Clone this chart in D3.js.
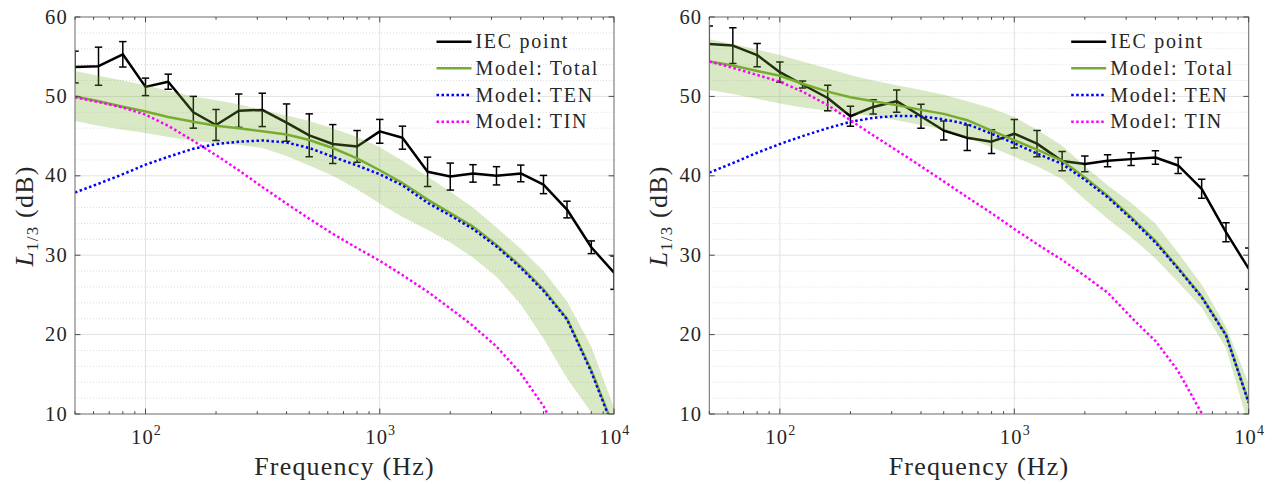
<!DOCTYPE html>
<html><head><meta charset="utf-8">
<script src="https://cdn.jsdelivr.net/npm/d3@7"></script>
<style>
body{margin:0;background:#fff;}
svg{display:block;}
text{font-family:"Liberation Serif","Times New Roman",serif;fill:#262626;}
</style>
</head><body>
<svg id="chart" width="1279" height="484"></svg>
<script>
// ---------- data ----------
const freqs = [50,63,80,100,125,160,200,250,315,400,500,630,800,1000,1250,1600,2000,2500,3150,4000,5000,6300,8000,10000];
const yTicks = [10,20,30,40,50,60];
const xMajorTicks = [100,1000,10000];
const xTickExponents = ["2","3","4"];
const legendLabels = ["IEC point","Model: Total","Model: TEN","Model: TIN"];
const xLabel = "Frequency (Hz)";

// left panel
const iecLeft    = [53.7,53.8,55.3,51.2,51.85,48.0,46.4,48.2,48.3,46.7,45.1,44.0,43.7,45.6,44.8,40.5,39.9,40.3,40.0,40.3,38.9,35.75,31.0,27.8];
const iecErrLeft = [2.0,2.4,1.6,1.1,0.95,2.0,1.95,2.1,2.1,2.35,2.7,2.45,2.0,1.5,1.45,1.85,1.7,1.1,1.15,1.05,1.15,1.05,0.8,2.1];
const totalLeft  = [50.0,49.4,48.7,48.1,47.4,46.8,46.3,46.0,45.6,45.2,44.5,43.5,42.2,40.7,39.1,37.0,35.3,33.6,31.3,28.6,25.7,22.0,15.5,8.2];
const tenLeft    = [37.9,39.0,40.2,41.4,42.4,43.4,44.0,44.3,44.45,44.2,43.5,42.4,41.3,40.2,38.8,36.6,35.0,33.3,31.1,28.4,25.5,21.9,15.3,8.0];
const tinLeft    = [49.9,49.3,48.6,47.7,46.3,44.4,42.6,40.7,38.6,36.5,34.6,32.7,30.9,29.3,27.5,25.4,23.3,21.1,18.5,15.1,11.0,5.0,-2.0,-10.0];
const bandUpLeft = [53.2,52.6,52.0,51.4,50.7,50.0,49.5,49.0,48.3,47.6,46.9,46.0,44.9,43.6,41.9,39.9,38.0,36.0,33.5,30.8,28.0,24.2,18.5,10.8];
const bandLoLeft = [46.9,46.3,45.8,45.4,44.9,44.4,44.1,43.9,43.5,42.5,41.3,40.0,38.3,36.5,34.8,33.2,31.6,29.7,27.3,23.8,19.5,14.5,10.2,2.0];

// right panel
const iecRight    = [56.6,56.4,55.2,53.05,51.5,49.8,47.5,48.67,49.4,47.5,45.7,44.8,44.3,45.3,44.05,41.85,41.5,41.9,42.1,42.3,41.3,38.36,32.9,28.3];
const iecErrRight = [2.27,2.25,1.45,1.28,0.45,1.6,1.26,0.9,1.4,1.5,1.2,1.6,1.5,1.8,1.65,1.2,1.0,0.75,0.8,0.85,1.0,1.2,1.2,2.6];
const totalRight  = [54.4,53.9,53.2,52.6,51.6,50.6,49.9,49.4,48.9,48.3,47.8,47.0,45.7,44.5,43.3,41.9,39.8,37.5,34.8,31.8,28.4,24.8,20.0,11.5];
const tenRight    = [40.4,41.6,42.9,44.0,45.0,46.0,46.8,47.3,47.55,47.5,47.1,46.5,45.3,44.1,42.8,41.5,39.5,37.3,34.6,31.6,28.3,24.7,19.9,11.4];
const tinRight    = [54.4,53.6,52.7,51.85,50.6,48.9,47.0,45.1,43.2,41.2,39.3,37.3,35.3,33.3,31.4,29.4,27.4,25.3,22.2,19.2,15.4,10.1,2.0,-7.0];
const bandUpRight = [57.2,56.6,55.9,55.2,54.4,53.5,52.7,52.0,51.4,50.8,50.2,49.4,48.5,47.4,45.8,43.8,41.2,38.8,36.6,34.0,30.3,26.3,21.0,13.8];
const bandLoRight = [50.8,50.3,49.7,49.1,48.6,48.2,47.9,47.5,47.0,46.4,45.8,44.8,43.6,42.4,41.2,39.6,37.0,34.6,32.3,29.6,26.6,23.4,18.3,8.5];

// ---------- styles ----------
const colIEC = "#000000", colTotal = "#77AC30", colTEN = "#0000FF", colTIN = "#FF00FF";

const svg = d3.select("#chart");
const Y0 = 17, Y1 = 414;

function buildRows(iec, err, total, ten, tin, up, lo){
  return freqs.map((f,i)=>({f, iec:iec[i], err:err[i], total:total[i], ten:ten[i], tin:tin[i], up:up[i], lo:lo[i]}));
}

function drawPanel(id, x0, x1, rows){
  const g = svg.append("g");
  const x = d3.scaleLog().domain([50,10000]).range([x0,x1]);
  const y = d3.scaleLinear().domain([10,60]).range([Y1,Y0]);

  // grid
  const minorY = d3.range(10,61,2).filter(v=>v%10!==0);
  g.selectAll(".mg").data(minorY).enter().append("line")
    .attr("x1",x0).attr("x2",x1).attr("y1",d=>y(d)).attr("y2",d=>y(d))
    .attr("stroke","#d4d4d4").attr("stroke-width",0.8).attr("stroke-dasharray","1,2");
  g.selectAll(".gy").data(yTicks.slice(1,-1)).enter().append("line")
    .attr("x1",x0).attr("x2",x1).attr("y1",d=>y(d)).attr("y2",d=>y(d))
    .attr("stroke","#e2e2e2").attr("stroke-width",1);
  g.selectAll(".gx").data(xMajorTicks.slice(0,-1)).enter().append("line")
    .attr("x1",d=>x(d)).attr("x2",d=>x(d)).attr("y1",Y0).attr("y2",Y1)
    .attr("stroke","#e2e2e2").attr("stroke-width",1);

  // clip
  svg.append("clipPath").attr("id","clip"+id).append("rect")
    .attr("x",x0).attr("y",Y0).attr("width",x1-x0).attr("height",Y1-Y0);
  const p = g.append("g").attr("clip-path","url(#clip"+id+")");

  // IEC line + error bars
  p.append("path").datum(rows)
    .attr("d", d3.line().x(d=>x(d.f)).y(d=>y(d.iec)))
    .attr("fill","none").attr("stroke",colIEC).attr("stroke-width",2.5).attr("stroke-linejoin","round");
  const eb = p.append("g").attr("stroke",colIEC).attr("stroke-width",1.5);
  rows.forEach(d=>{
    const cx = x(d.f), yt = y(d.iec+d.err), yb = y(d.iec-d.err);
    eb.append("line").attr("x1",cx).attr("x2",cx).attr("y1",yt).attr("y2",yb);
    eb.append("line").attr("x1",cx-3.7).attr("x2",cx+3.7).attr("y1",yt).attr("y2",yt);
    eb.append("line").attr("x1",cx-3.7).attr("x2",cx+3.7).attr("y1",yb).attr("y2",yb);
  });

  // band
  p.append("path").datum(rows)
    .attr("d", d3.area().x(d=>x(d.f)).y0(d=>y(d.lo)).y1(d=>y(d.up)))
    .attr("fill",colTotal).attr("fill-opacity",0.28).attr("stroke","none");

  // model lines
  p.append("path").datum(rows)
    .attr("d", d3.line().x(d=>x(d.f)).y(d=>y(d.total)))
    .attr("fill","none").attr("stroke",colTotal).attr("stroke-width",2.5);
  p.append("path").datum(rows)
    .attr("d", d3.line().x(d=>x(d.f)).y(d=>y(d.ten)))
    .attr("fill","none").attr("stroke",colTEN).attr("stroke-width",2.5).attr("stroke-dasharray","2.5,2.5");
  p.append("path").datum(rows)
    .attr("d", d3.line().x(d=>x(d.f)).y(d=>y(d.tin)))
    .attr("fill","none").attr("stroke",colTIN).attr("stroke-width",2.5).attr("stroke-dasharray","2.5,2.5");

  // box
  g.append("rect").attr("x",x0).attr("y",Y0).attr("width",x1-x0).attr("height",Y1-Y0)
    .attr("fill","none").attr("stroke","#6a6a6a").attr("stroke-width",1);

  // ticks
  const tk = g.append("g").attr("stroke","#4a4a4a").attr("stroke-width",1);
  x.ticks().forEach(t=>{
    const major = xMajorTicks.includes(t);
    const L = major ? 5.4 : 2.8;
    tk.append("line").attr("x1",x(t)).attr("x2",x(t)).attr("y1",Y1).attr("y2",Y1-L);
    tk.append("line").attr("x1",x(t)).attr("x2",x(t)).attr("y1",Y0).attr("y2",Y0+L);
  });
  yTicks.forEach(t=>{
    tk.append("line").attr("x1",x0).attr("x2",x0+5.4).attr("y1",y(t)).attr("y2",y(t));
    tk.append("line").attr("x1",x1).attr("x2",x1-5.4).attr("y1",y(t)).attr("y2",y(t));
  });

  // tick labels
  g.selectAll(".yl").data(yTicks).enter().append("text")
    .attr("x",x0-7).attr("y",d=>y(d)+6.6).attr("text-anchor","end")
    .attr("font-size",20.5).attr("letter-spacing",1.2).text(d=>d);
  xMajorTicks.forEach((t,i)=>{
    const tx = g.append("text").attr("x",x(t)+1).attr("y",443.5).attr("text-anchor","middle")
      .attr("font-size",20.5).attr("letter-spacing",1.2);
    tx.append("tspan").text("10");
    tx.append("tspan").attr("dy",-9).attr("font-size",14).text(xTickExponents[i]);
  });

  // axis labels
  g.append("text").attr("x",(x0+x1)/2).attr("y",474.5).attr("text-anchor","middle")
    .attr("font-size",26).attr("letter-spacing",1.2).text(xLabel);
  const yl = g.append("text").attr("transform",`translate(${x0-42},216) rotate(-90)`)
    .attr("text-anchor","middle").attr("font-size",26).attr("letter-spacing",1.2);
  yl.append("tspan").attr("font-style","italic").text("L");
  yl.append("tspan").attr("dy",5).attr("font-size",17).text("1/3");
  yl.append("tspan").attr("dy",-5).text(" (dB)");

  // legend
  const lx = x1-177.5, rowsY = [41.7,68.3,95,121.7];
  const styles = [
    {c:colIEC, dash:null},{c:colTotal, dash:null},{c:colTEN, dash:"2.5,2.5"},{c:colTIN, dash:"2.5,2.5"}
  ];
  legendLabels.forEach((lab,i)=>{
    const ln = g.append("line").attr("x1",lx).attr("x2",lx+35).attr("y1",rowsY[i]).attr("y2",rowsY[i])
      .attr("stroke",styles[i].c).attr("stroke-width",2.5);
    if(styles[i].dash) ln.attr("stroke-dasharray",styles[i].dash);
    g.append("text").attr("x",lx+39).attr("y",rowsY[i]+6.7)
      .attr("font-size",20).attr("letter-spacing",1.7).text(lab);
  });
}

drawPanel("L", 75, 614, buildRows(iecLeft, iecErrLeft, totalLeft, tenLeft, tinLeft, bandUpLeft, bandLoLeft));
drawPanel("R", 709.3, 1248.7, buildRows(iecRight, iecErrRight, totalRight, tenRight, tinRight, bandUpRight, bandLoRight));
</script>
</body></html>
